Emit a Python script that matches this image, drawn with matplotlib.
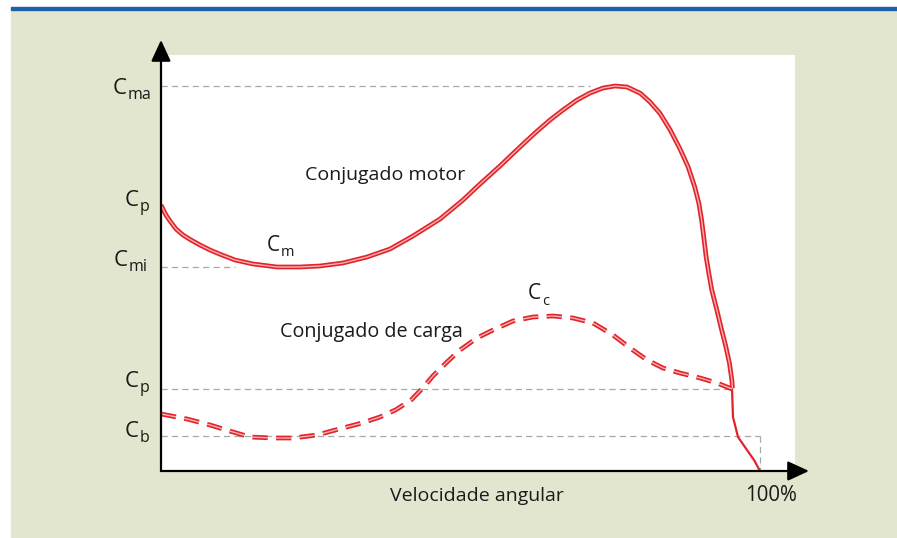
import matplotlib
matplotlib.use("Agg")
import matplotlib.pyplot as plt
from matplotlib.patches import Rectangle

plt.rcParams["font.family"] = ["Open Sans", "DejaVu Sans"]
plt.rcParams["lines.scale_dashes"] = False

# Motor torque curve (speed %, torque % of max)
motor_x = [0.0, 0.83, 1.50, 2.50, 3.67, 5.01, 6.51, 8.18, 10.18, 12.35, 15.36, 19.37,
           23.21, 26.54, 30.38, 34.39, 38.23, 42.07, 46.58, 50.42, 53.26, 56.59, 59.93,
           62.44, 64.94, 67.11, 69.45, 71.62, 73.79, 75.79, 77.80, 80.03, 81.6, 83.3,
           85.0, 86.6, 88.0, 89.1, 89.8, 90.25, 90.6, 91.0, 91.45, 91.95, 92.8, 93.6, 94.3,
           94.9, 95.3, 95.4]
motor_y = [69.09, 66.49, 64.94, 62.86, 61.30, 60.00, 58.70, 57.40, 56.10, 54.81, 53.77,
           52.99, 52.99, 53.25, 54.03, 55.58, 57.66, 61.04, 65.45, 70.39, 74.55, 79.22,
           84.16, 87.79, 91.17, 93.77, 96.36, 98.18, 99.48, 100.0, 99.74, 98.10, 95.9,
           92.9, 88.6, 83.8, 79.0, 73.8, 69.5, 65.2, 60.9, 55.7, 51.4, 47.0, 41.8, 36.6,
           32.3, 28.0, 23.6, 21.5]
# thin tail of the motor curve below the operating point
tail_x = [95.33, 95.49, 96.33, 97.83, 99.0, 100.0]
tail_y = [21.3, 14.03, 8.83, 5.45, 2.86, 0.0]

# Load torque curve
load_x = [0.0, 4.34, 8.18, 12.02, 14.86, 18.70, 22.04, 26.04, 30.38, 33.56, 36.56,
          39.2, 41.8, 43.6, 45.41, 47.75, 49.92, 52.75, 55.43, 58.76, 62.10, 65.44,
          68.78, 72.12, 75.46, 78.30, 81.14, 83.81, 86.64, 89.98, 92.82, 95.33]
load_y = [14.81, 13.51, 11.95, 10.13, 8.83, 8.57, 8.57, 9.35, 11.17, 12.47, 14.03,
          15.9, 18.5, 21.4, 24.7, 28.31, 31.43, 34.55, 36.62, 38.96, 40.00, 40.26,
          39.74, 38.44, 35.32, 31.95, 28.83, 26.75, 25.45, 24.16, 22.86, 21.30]

# reference levels: (level, end of dashed line)
levels = {"Cma": (100.0, 71.6), "Cmi": (53.1, 12.4), "Cp": (21.3, 95.33), "Cb": (9.1, 100.0)}

W, H = 897, 538
fig = plt.figure(figsize=(W / 100, H / 100), dpi=100, facecolor="white")

def fpx(x, y):
    return (x / 100, (H - y) / 100)

# background panel and blue rule
fig.patches.append(Rectangle(fpx(11, H), (W - 11) / 100, (H - 10) / 100,
                             transform=fig.dpi_scale_trans, color="#e3e6cf", zorder=0))
fig.patches.append(Rectangle(fpx(11, 10), (W - 11) / 100, 3 / 100,
                             transform=fig.dpi_scale_trans, color="#1c60aa", zorder=1))

ax = fig.add_axes([161 / W, (H - 471) / H, (795 - 161) / W, (471 - 55) / H])
ax.set_zorder(3)
ax.set_facecolor("white")
ax.set_xlim(0, 634 / 5.99)
ax.set_ylim(0, 416 / 3.85)
ax.set_xticks([]); ax.set_yticks([])
for s in ax.spines.values():
    s.set_visible(False)

# dashed reference lines
gray = dict(color="#a8a8a8", lw=0.9, dashes=(4.5, 3))
for name, (lv, xe) in levels.items():
    ax.plot([0, xe], [lv, lv], **gray, zorder=2)
ax.plot([100, 100], [levels["Cb"][0], 0], **gray, zorder=2)

red = "#e2232b"
pink = "#f7b2b0"
# motor curve as double line
ax.plot(motor_x, motor_y, color=red, lw=3.4, solid_capstyle="butt", solid_joinstyle="round", zorder=4)
ax.plot(motor_x, motor_y, color=pink, lw=1.0, solid_capstyle="butt", solid_joinstyle="round", zorder=5)
ax.plot(tail_x, tail_y, color=red, lw=1.6, solid_joinstyle="round", zorder=4)
# load curve dashed double line
ax.plot(load_x, load_y, color=red, lw=3.4, dashes=(11, 6), dash_capstyle="butt", zorder=4)
ax.plot(load_x, load_y, color=pink, lw=1.0, dashes=(11, 6), dash_capstyle="butt", zorder=5)

# axes with arrows
arrow = dict(arrowstyle="-|>,head_length=0.65,head_width=0.3", color="black", lw=1.6,
             mutation_scale=20, shrinkA=0, shrinkB=0)
ax.annotate("", xy=(0, (471 - 40) / 3.85), xytext=(0, 0), arrowprops=arrow,
            annotation_clip=False, zorder=6)
ax.annotate("", xy=((809 - 161) / 5.99, 0), xytext=(0, 0), arrowprops=arrow,
            annotation_clip=False, zorder=6)

tk = dict(transform=fig.dpi_scale_trans, color="#1a1a1a", zorder=5)

def clabel(xr, yb, sub, size=16, subsize=11.5, shift=5):
    fig.text(*fpx(xr, yb), "C", ha="right", va="baseline", fontsize=size, **tk)
    fig.text(*fpx(xr + 1, yb + shift), sub, ha="left", va="baseline", fontsize=subsize, **tk)

clabel(127, 94, "ma")
clabel(139, 206, "p")
clabel(128, 266, "mi")
clabel(139, 387, "p")
clabel(139, 437, "b")
clabel(280, 251, "m", size=15, subsize=10.5)
clabel(541, 299, "c", size=15, subsize=10.5, shift=6)

fig.text(*fpx(385, 180), "Conjugado motor", ha="center", va="baseline", fontsize=14, **tk)
fig.text(*fpx(371, 337), "Conjugado de carga", ha="center", va="baseline", fontsize=14.2, **tk)
fig.text(*fpx(477, 501), "Velocidade angular", ha="center", va="baseline", fontsize=14, **tk)
fig.text(*fpx(771, 501), "100%", ha="center", va="baseline", fontsize=14.8, **tk)

fig.savefig("out.png", dpi=100)
